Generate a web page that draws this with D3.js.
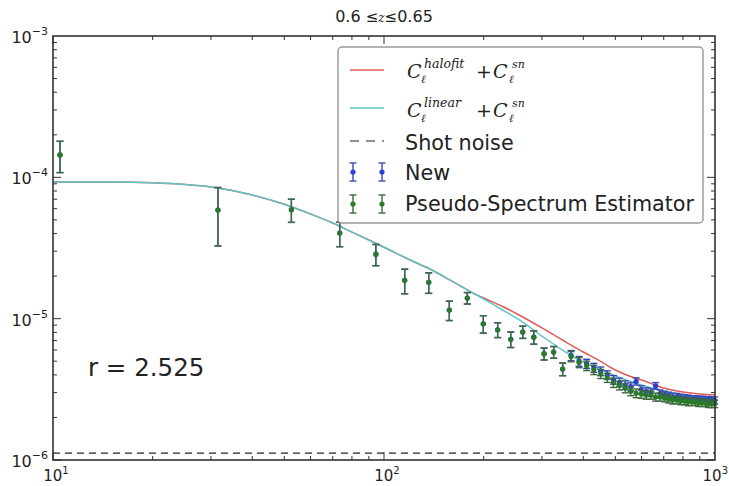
<!DOCTYPE html>
<html><head><meta charset="utf-8">
<script src="https://cdn.jsdelivr.net/npm/d3@7"></script>
<style>body{margin:0;background:#fff}svg{display:block}</style>
</head><body><svg id="c" width="729" height="486"></svg>
<script>
// ---- data ----
const ells = [10.5,31.5,52.5,73.5,94.5,115.5,136.5,157.5,178.5,199.5,220.5,241.5,262.5,283.5,304.5,325.5,346.5,367.5,388.5,409.5,430.5,451.5,472.5,493.5,514.5,535.5,556.5,577.5,598.5,619.5,640.5,661.5,682.5,703.5,724.5,745.5,766.5,787.5,808.5,829.5,850.5,871.5,892.5,913.5,934.5,955.5,976.5,997.5];
const pseudoVal = [1.44e-4,5.87e-5,5.9e-5,4.03e-5,2.86e-5,1.87e-5,1.81e-5,1.15e-5,1.40e-5,9.2e-6,8.35e-6,7.15e-6,8.05e-6,7.4e-6,5.65e-6,5.8e-6,4.4e-6,5.4e-6,4.9e-6,4.65e-6,4.35e-6,4.07e-6,3.82e-6,3.52e-6,3.37e-6,3.22e-6,3.07e-6,2.97e-6,2.93e-6,2.88e-6,2.88e-6,2.79e-6,2.79e-6,2.75e-6,2.70e-6,2.66e-6,2.66e-6,2.62e-6,2.62e-6,2.58e-6,2.58e-6,2.58e-6,2.54e-6,2.54e-6,2.54e-6,2.50e-6,2.50e-6,2.50e-6];
const pseudoErr = [3.6e-5,2.6e-5,1.1e-5,8e-6,4.9e-6,3.7e-6,3.0e-6,1.8e-6,1.3e-6,1.3e-6,1.0e-6,9e-7,8e-7,8e-7,5.5e-7,5.5e-7,4.5e-7,4.5e-7,4e-7,3.6e-7,3.3e-7,3e-7,2.8e-7,2.6e-7,2.4e-7,2.3e-7,2.2e-7,2.1e-7,2e-7,1.9e-7,1.9e-7,1.8e-7,1.8e-7,1.7e-7,1.7e-7,1.7e-7,1.6e-7,1.6e-7,1.6e-7,1.6e-7,1.5e-7,1.5e-7,1.5e-7,1.5e-7,1.5e-7,1.5e-7,1.5e-7,1.5e-7];
const newVal = [1.44e-4,5.87e-5,5.9e-5,4.03e-5,2.86e-5,1.87e-5,1.81e-5,1.15e-5,1.40e-5,9.2e-6,8.35e-6,7.15e-6,8.05e-6,7.4e-6,5.65e-6,5.8e-6,4.4e-6,5.5e-6,5.0e-6,4.8e-6,4.5e-6,4.25e-6,4.0e-6,3.7e-6,3.55e-6,3.4e-6,3.3e-6,3.6e-6,3.15e-6,3.05e-6,3.0e-6,3.35e-6,2.95e-6,2.9e-6,2.85e-6,2.8e-6,2.8e-6,2.76e-6,2.74e-6,2.72e-6,2.70e-6,2.70e-6,2.68e-6,2.68e-6,2.66e-6,2.66e-6,2.64e-6,2.64e-6];
const newErr = pseudoErr;
const curveL = [10,15,20,25,30,40,50,60,70,80,90,100,120,140,160,180,200,230,260,300,350,400,450,500,550,600,700,800,900,1000];
const linearC = [9.27e-5,9.27e-5,9.15e-5,8.9e-5,8.55e-5,7.5e-5,6.45e-5,5.5e-5,4.75e-5,4.1e-5,3.6e-5,3.2e-5,2.6e-5,2.2e-5,1.85e-5,1.58e-5,1.38e-5,1.14e-5,9.6e-6,7.53e-6,5.9e-6,4.93e-6,4.4e-6,3.93e-6,3.62e-6,3.39e-6,3.07e-6,2.88e-6,2.79e-6,2.74e-6];
const halofitC = [9.27e-5,9.27e-5,9.15e-5,8.9e-5,8.55e-5,7.5e-5,6.45e-5,5.5e-5,4.75e-5,4.1e-5,3.6e-5,3.2e-5,2.6e-5,2.2e-5,1.85e-5,1.58e-5,1.40e-5,1.21e-5,1.04e-5,8.6e-6,6.95e-6,5.81e-6,5.01e-6,4.33e-6,3.93e-6,3.68e-6,3.23e-6,3.03e-6,2.93e-6,2.88e-6];
const shotNoise = 1.12e-6;
const xTicks = [10,100,1000];
const yTicks = [1e-6,1e-5,1e-4,1e-3];
const rText = "r = 2.525";

// ---- layout ----
const svg = d3.select("#c");
const L=53,R=715,T=36,B=460;
const x = d3.scaleLog().domain([10,1000]).range([L,R]);
const y = d3.scaleLog().domain([1e-6,1e-3]).range([B,T]);
const g = svg.append("g");
const col = {red:"#e05a5a",cyan:"#5cc4c4",blue:"#2b3fd0",green:"#2a7a2a",gerr:"#3c6a3c",berr:"#3a4ab0"};

// curves
const line = d3.line().x((d,i)=>x(curveL[i])).y(d=>y(d)).curve(d3.curveMonotoneX);
g.append("path").attr("d",line(halofitC)).attr("fill","none").attr("stroke",col.red).attr("stroke-width",1.5);
g.append("path").attr("d",line(linearC)).attr("fill","none").attr("stroke",col.cyan).attr("stroke-width",1.5);
g.append("line").attr("x1",L).attr("x2",R).attr("y1",y(shotNoise)).attr("y2",y(shotNoise))
 .attr("stroke","#222").attr("stroke-width",1.2).attr("stroke-dasharray","7,5");

function errbars(vals, errs, c, ec){
  const s = g.append("g");
  vals.forEach((v,i)=>{
    const xx=x(ells[i]), y1=y(v+errs[i]), y0=y(v-errs[i]);
    s.append("line").attr("x1",xx).attr("x2",xx).attr("y1",y1).attr("y2",y0).attr("stroke",ec).attr("stroke-width",1.4);
    [y1,y0].forEach(yy=>s.append("line").attr("x1",xx-3.5).attr("x2",xx+3.5).attr("y1",yy).attr("y2",yy).attr("stroke",ec).attr("stroke-width",1.4));
    s.append("circle").attr("cx",xx).attr("cy",y(v)).attr("r",2.6).attr("fill",c);
  });
}
errbars(newVal,newErr,col.blue,col.berr);
errbars(pseudoVal,pseudoErr,col.green,col.gerr);

// frame
svg.append("rect").attr("x",L).attr("y",T).attr("width",R-L).attr("height",B-T).attr("fill","none").attr("stroke","#333").attr("stroke-width",1.6);

// ticks
const tk = svg.append("g").attr("stroke","#333");
for(let e=-6;e<-3;e++) for(let m=1;m<10;m++){
  const v=m*Math.pow(10,e), yy=y(v), len=m===1?8:4;
  tk.append("line").attr("x1",L).attr("x2",L+len).attr("y1",yy).attr("y2",yy);
  tk.append("line").attr("x1",R).attr("x2",R-len).attr("y1",yy).attr("y2",yy);
}
for(let e=1;e<3;e++) for(let m=1;m<10;m++){
  const v=m*Math.pow(10,e), xx=x(v), len=m===1?8:4;
  tk.append("line").attr("y1",B).attr("y2",B-len).attr("x1",xx).attr("x2",xx);
  tk.append("line").attr("y1",T).attr("y2",T+len).attr("x1",xx).attr("x2",xx);
}
const font = "DejaVu Sans, sans-serif";
yTicks.forEach(v=>{
  const t=svg.append("text").attr("x",L-5).attr("y",y(v)+7).attr("text-anchor","end").attr("font-family",font).attr("font-size",16).attr("fill","#222");
  t.append("tspan").text("10");
  t.append("tspan").attr("dy",-8).attr("font-size",11).text(String(Math.round(Math.log10(v))).replace("-","−"));
});
xTicks.forEach(v=>{
  const t=svg.append("text").attr("x",x(v)+3).attr("y",B+21).attr("text-anchor",v===1000?"end":"middle").attr("dx",v===1000?10:0).attr("font-family",font).attr("font-size",15).attr("fill","#222");
  t.append("tspan").text("10");
  t.append("tspan").attr("dy",-7).attr("font-size",10).text(String(Math.round(Math.log10(v))));
});

// title
const tt = svg.append("text").attr("x",384).attr("y",22).attr("text-anchor","middle").attr("font-family",font).attr("font-size",16).attr("fill","#222");
tt.append("tspan").text("0.6 ");
tt.append("tspan").attr("font-size",15).text("≤");
tt.append("tspan").attr("font-family","DejaVu Serif, serif").attr("font-style","italic").attr("font-size",12).text("z");
tt.append("tspan").attr("font-size",15).text("≤");
tt.append("tspan").text("0.65");

svg.append("text").attr("x",88).attr("y",376).attr("font-family",font).attr("font-size",24.5).attr("fill","#222").text(rText);

// legend
const lg = svg.append("g");
lg.append("rect").attr("x",338).attr("y",47).attr("width",365).attr("height",176).attr("rx",4).attr("fill","#fff").attr("stroke","#999").attr("stroke-width",1.4);
const lx0=350,lx1=384,tx=405;
lg.append("line").attr("x1",lx0).attr("x2",lx1).attr("y1",70).attr("y2",70).attr("stroke",col.red).attr("stroke-width",1.5);
lg.append("line").attr("x1",lx0).attr("x2",lx1).attr("y1",108).attr("y2",108).attr("stroke",col.cyan).attr("stroke-width",1.5);
lg.append("line").attr("x1",lx0).attr("x2",lx1).attr("y1",141).attr("y2",141).attr("stroke","#222").attr("stroke-width",1.2).attr("stroke-dasharray","9,7");
const serif = "DejaVu Serif, serif";
function mathLabel(yy, sup){
  const add=(xx,dy,txt,fs)=>lg.append("text").attr("x",xx).attr("y",yy+dy).attr("font-family",serif).attr("font-style","italic").attr("font-size",fs).attr("fill","#222").text(txt);
  add(407,0,"C",19);
  add(424,-10,sup,12.5);
  add(421,5,"ℓ",11);
  lg.append("text").attr("x",476).attr("y",yy).attr("font-family",serif).attr("font-size",19).attr("fill","#222").text("+");
  add(493,0,"C",19);
  add(512,-10,"sn",11);
  add(509,5,"ℓ",11);
}
mathLabel(78,"halofit");
mathLabel(117,"linear");
lg.append("text").attr("x",tx).attr("y",150).attr("font-family",font).attr("font-size",20.7).attr("fill","#222").text("Shot noise");
lg.append("text").attr("x",tx).attr("y",180).attr("font-family",font).attr("font-size",20.7).attr("fill","#222").text("New");
lg.append("text").attr("x",tx).attr("y",211).attr("font-family",font).attr("font-size",20.7).attr("fill","#222").text("Pseudo-Spectrum Estimator");
function legMark(cy,c,ec){
  [353,382].forEach(cx=>{
    lg.append("line").attr("x1",cx).attr("x2",cx).attr("y1",cy-9).attr("y2",cy+9).attr("stroke",ec).attr("stroke-width",1.4);
    [cy-9,cy+9].forEach(yy=>lg.append("line").attr("x1",cx-3.5).attr("x2",cx+3.5).attr("y1",yy).attr("y2",yy).attr("stroke",ec).attr("stroke-width",1.4));
    lg.append("circle").attr("cx",cx).attr("cy",cy).attr("r",2.6).attr("fill",c);
  });
}
legMark(172,col.blue,col.berr);
legMark(204,col.green,col.gerr);
</script></body></html>
